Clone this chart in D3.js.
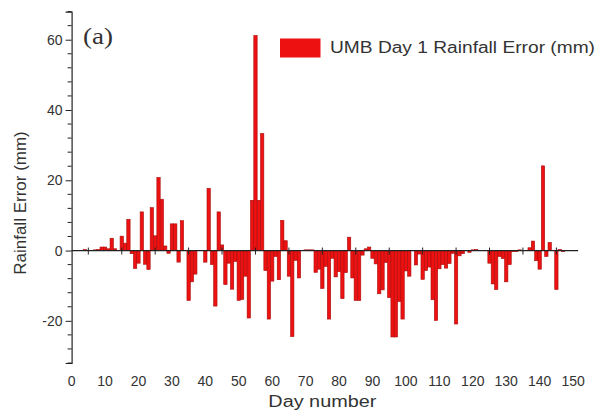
<!DOCTYPE html>
<html>
<head>
<meta charset="utf-8">
<script src="https://cdn.jsdelivr.net/npm/d3@7"></script>
<style>
  html, body { margin: 0; padding: 0; background: #fff; }
  svg { display: block; }
  text { font-family: "Liberation Sans", Arial, sans-serif; fill: #333; }
</style>
</head>
<body>
<svg id="chart" width="601" height="415"></svg>
<script>
// Daily rainfall error of the UMB day-1 forecast (mm), days 1..148
const days = d3.range(1, 149);
const rainfallError = [
  0, 0, 0, 0.3, 0, 0, 0.2, 0.3, 1.0, 1.0,
  0.5, 3.5, 0.5, 0, 4.1, 2.1, 8.9, -0.9, -5.1, -3.6,
  11.0, -3.9, -5.4, 12.2, 4.2, 20.8, 14.6, 1.3, -0.8, 7.6,
  7.6, -3.3, 8.5, 0, -14.2, -8.9, -6.7, 0, 0, -3.3,
  17.7, -4.0, -15.8, 11.0, 1.6, -9.7, -3.6, -11.0, -3.1, -14.2,
  -13.9, -7.3, -19.2, 14.3, 61.2, 14.3, 33.3, -5.7, -19.5, -8.7,
  -1.7, -8.3, 8.6, 2.8, -7.3, -24.5, -2.8, -7.8, 0, 0.2,
  0.2, 0.2, -6.2, -5.3, -10.8, -4.5, -19.5, -2.2, -7.5, -6.0,
  -13.7, -6.3, 3.8, -7.8, -14.2, -14.2, -1.3, 0.5, 1.0, -2.2,
  -3.8, -12.3, -11.2, -3.4, -13.4, -24.6, -24.6, -14.5, -19.5, -5.8,
  -7.3, 0, -4.1, -1.0, -8.2, -5.7, -4.7, -14.0, -19.9, -5.2,
  -4.0, -5.0, -3.7, -0.8, -20.9, -1.5, -0.9, 0, -0.5, 0.2,
  0.3, 0, 0, 0, -3.6, -9.5, -11.1, -1.7, -2.3, -8.9,
  -4.0, -0.3, -0.3, 0.2, 0, 0, 0.8, 2.7, -2.9, -5.3,
  24.1, -1.7, 2.3, 0, -11.1, 0.3, -0.3, 0
];

const xTickValues = [0, 10, 20, 30, 40, 50, 60, 70, 80, 90, 100, 110, 120, 130, 140, 150];
const zeroLineTicks = [5, 15, 25, 35, 45, 55, 65, 75, 85, 95, 105, 115, 125, 135, 145];
const yTickValues = [-20, 0, 20, 40, 60];
const yMinorValues = d3.range(-32, 69, 4);

const legendLabel = "UMB Day 1 Rainfall Error (mm)";
const panelLabel = "(a)";
const xTitle = "Day number";
const yTitle = "Rainfall Error (mm)";

const svg = d3.select("#chart");

const x = d3.scaleLinear().domain([0, 150]).range([71.6, 573.1]);
const y = d3.scaleLinear().domain([-32, 68]).range([363, 11.6]);

const barW = x(1) - x(0);

// bars
svg.append("g")
  .selectAll("rect")
  .data(days.map((d, i) => ({ day: d, v: rainfallError[i] })).filter(d => d.v !== 0))
  .join("rect")
  .attr("x", d => x(d.day - 0.5))
  .attr("width", barW)
  .attr("y", d => y(Math.max(0, d.v)))
  .attr("height", d => Math.abs(y(d.v) - y(0)))
  .attr("fill", "#ee1111")
  .attr("stroke", "#a80c0c")
  .attr("stroke-width", 0.6);

// zero baseline with its small crossing ticks
const zl = svg.append("g").attr("stroke", "#222");
zl.append("line")
  .attr("x1", x(0)).attr("x2", x(151.5))
  .attr("y1", y(0)).attr("y2", y(0))
  .attr("stroke-width", 1.2);
zl.selectAll("line.t")
  .data(zeroLineTicks)
  .join("line")
  .attr("class", "t")
  .attr("x1", d => x(d)).attr("x2", d => x(d))
  .attr("y1", y(0) - 3).attr("y2", y(0) + 4)
  .attr("stroke-width", 1);

// y axis
const yAxis = d3.axisLeft(y).tickValues(yTickValues).tickSize(6).tickPadding(3).tickFormat(d => String(d));
const gy = svg.append("g").attr("transform", `translate(${x(0)},0)`).call(yAxis);
gy.select(".domain").attr("stroke", "#222").attr("stroke-width", 1.2);
gy.selectAll(".tick line").attr("stroke", "#222");
gy.selectAll(".tick text").attr("font-size", 14).attr("fill", "#333")
  .style("font-family", "'Liberation Sans', Arial, sans-serif");
gy.selectAll("line.minor")
  .data(yMinorValues.filter(v => !yTickValues.includes(v)))
  .join("line")
  .attr("class", "minor")
  .attr("x1", -4).attr("x2", 0)
  .attr("y1", d => y(d)).attr("y2", d => y(d))
  .attr("stroke", "#222");

// x tick labels along the bottom (no axis line)
svg.append("g")
  .selectAll("text")
  .data(xTickValues)
  .join("text")
  .attr("x", d => x(d))
  .attr("y", 386)
  .attr("text-anchor", "middle")
  .attr("font-size", 14)
  .text(d => d);

// axis titles
svg.append("text")
  .attr("x", x(75)).attr("y", 407)
  .attr("text-anchor", "middle")
  .attr("font-size", 16)
  .attr("textLength", 108)
  .attr("lengthAdjust", "spacingAndGlyphs")
  .text(xTitle);

svg.append("text")
  .attr("transform", "translate(26,203) rotate(-90)")
  .attr("text-anchor", "middle")
  .attr("font-size", 17)
  .text(yTitle);

// panel label
svg.append("text")
  .attr("x", 83).attr("y", 44)
  .attr("font-size", 24)
  .style("font-family", "'Liberation Serif', 'Times New Roman', serif")
  .attr("fill", "#111")
  .attr("textLength", 30)
  .attr("lengthAdjust", "spacingAndGlyphs")
  .text(panelLabel);

// legend
svg.append("rect")
  .attr("x", 280).attr("y", 38.5)
  .attr("width", 40.5).attr("height", 19)
  .attr("fill", "#ee1111");
svg.append("text")
  .attr("x", 330).attr("y", 53.3)
  .attr("font-size", 16)
  .attr("textLength", 265)
  .attr("lengthAdjust", "spacingAndGlyphs")
  .text(legendLabel);
</script>
</body>
</html>
